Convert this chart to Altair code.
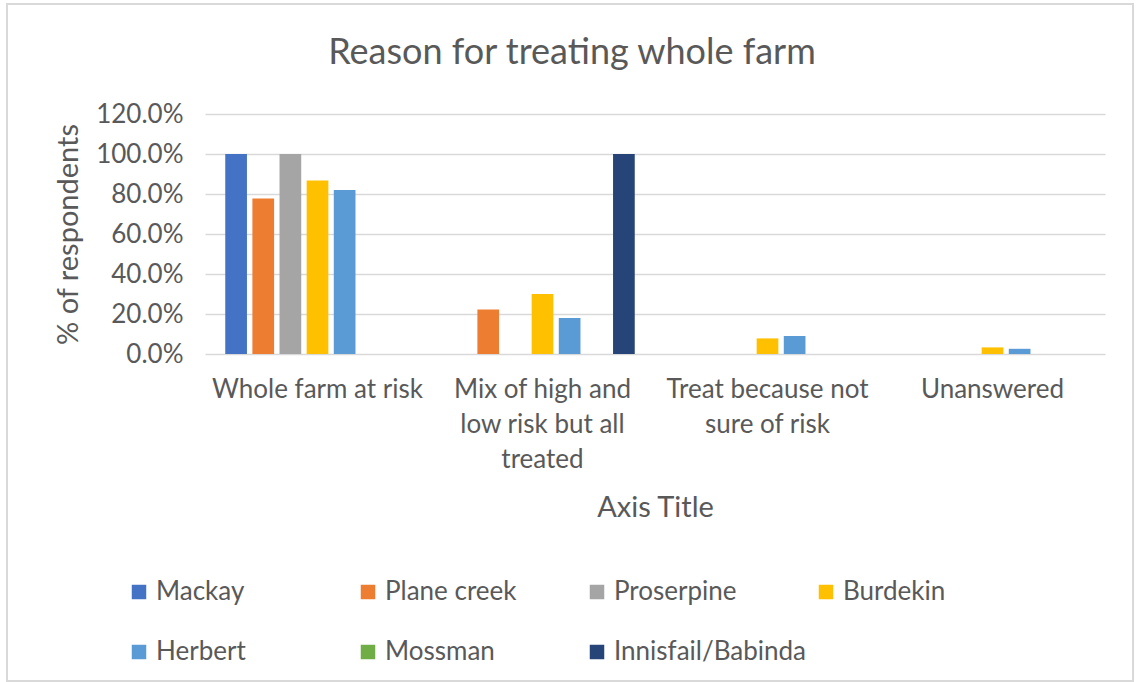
import altair as alt
import pandas as pd

TITLE = "Reason for treating whole farm"

# Survey categories (newline marks where the axis label wraps)
categories = [
    "Whole farm at risk",
    "Mix of high and\nlow risk but all\ntreated",
    "Treat because not\nsure of risk",
    "Unanswered",
]
regions = ["Mackay", "Plane creek", "Proserpine", "Burdekin",
           "Herbert", "Mossman", "Innisfail/Babinda"]
colors = ["#4472C4", "#ED7D31", "#A5A5A5", "#FFC000",
          "#5B9BD5", "#70AD47", "#264478"]

# Share of respondents per region, one list per category
whole_farm = [1.000, 0.778, 1.000, 0.867, 0.820, 0.0, 0.0]
mixed_risk = [0.0, 0.222, 0.0, 0.300, 0.180, 0.0, 1.000]
not_sure = [0.0, 0.0, 0.0, 0.078, 0.090, 0.0, 0.0]
unanswered = [0.0, 0.0, 0.0, 0.033, 0.026, 0.0, 0.0]

rows = []
for cat, vals in zip(categories, [whole_farm, mixed_risk, not_sure, unanswered]):
    for reg, v in zip(regions, vals):
        rows.append({"reason": cat, "region": reg, "share": v})
df = pd.DataFrame(rows)

FONT = "Lato"
GREY = "#595959"

bars = alt.Chart(df).mark_bar().encode(
    x=alt.X(
        "reason:N",
        sort=categories,
        scale=alt.Scale(paddingInner=0.18, paddingOuter=0.09),
        axis=alt.Axis(
            title="Axis Title",
            labelAngle=0,
            labelExpr="split(datum.label, '\\n')",
            labelFontSize=26,
            labelLineHeight=35,
            labelPadding=22,
            labelBaseline="top",
            labelColor=GREY,
            labelFont=FONT,
            labelLimit=300,
            ticks=False,
            domain=False,
            titleFontSize=29,
            titleFont=FONT,
            titleColor=GREY,
            titleFontWeight="normal",
            titleY=153,
            titleBaseline="middle",
        ),
    ),
    xOffset=alt.XOffset("region:N", sort=regions,
                        scale=alt.Scale(paddingInner=0.2, paddingOuter=0)),
    y=alt.Y(
        "share:Q",
        scale=alt.Scale(domain=[0, 1.2]),
        axis=alt.Axis(
            title="% of respondents",
            format=".1%",
            values=[0, 0.2, 0.4, 0.6, 0.8, 1.0, 1.2],
            labelFontSize=26,
            labelFont=FONT,
            labelColor=GREY,
            labelPadding=22,
            ticks=False,
            domain=False,
            gridColor="#D9D9D9",
            gridWidth=1.6,
            titleFontSize=29,
            titleFont=FONT,
            titleColor=GREY,
            titleFontWeight="normal",
            titleX=-137,
            titleY=120,
            titleAngle=-90,
            titleBaseline="middle",
            titleAlign="center",
        ),
    ),
    color=alt.Color(
        "region:N",
        sort=regions,
        scale=alt.Scale(domain=regions, range=colors),
        legend=alt.Legend(
            title=None,
            orient="none",
            legendX=-79,
            legendY=465,
            direction="horizontal",
            columns=4,
            gridAlign="all",
            columnPadding=7,
            rowPadding=34,
            symbolType="square",
            symbolSize=210,
            symbolStrokeWidth=0,
            labelFontSize=26,
            labelFont=FONT,
            labelColor=GREY,
            labelOffset=4,
            labelLimit=400,
        ),
    ),
)

# Chart title, centred over the whole chart rather than the plot area
title = alt.Chart(pd.DataFrame({"t": [TITLE]})).mark_text(
    font=FONT, fontSize=36, color=GREY, align="center", baseline="middle"
).encode(text="t:N", x=alt.value(367), y=alt.value(-61))

# Light frame round the whole chart area
frame = alt.Chart(df).mark_rect(
    fill=None, stroke="#D9D9D9", strokeWidth=1.5
).encode(
    x=alt.value(-198), x2=alt.value(928),
    y=alt.value(-110), y2=alt.value(567),
)

chart = alt.layer(frame, title, bars).properties(
    width=900,
    height=240,
    padding={"left": 205, "top": 114, "right": 31, "bottom": 328},
    autosize=alt.AutoSizeParams(type="none"),
    background="white",
).configure_view(stroke=None)

chart.save("out.html", embed_options={"renderer": "svg", "actions": False})
